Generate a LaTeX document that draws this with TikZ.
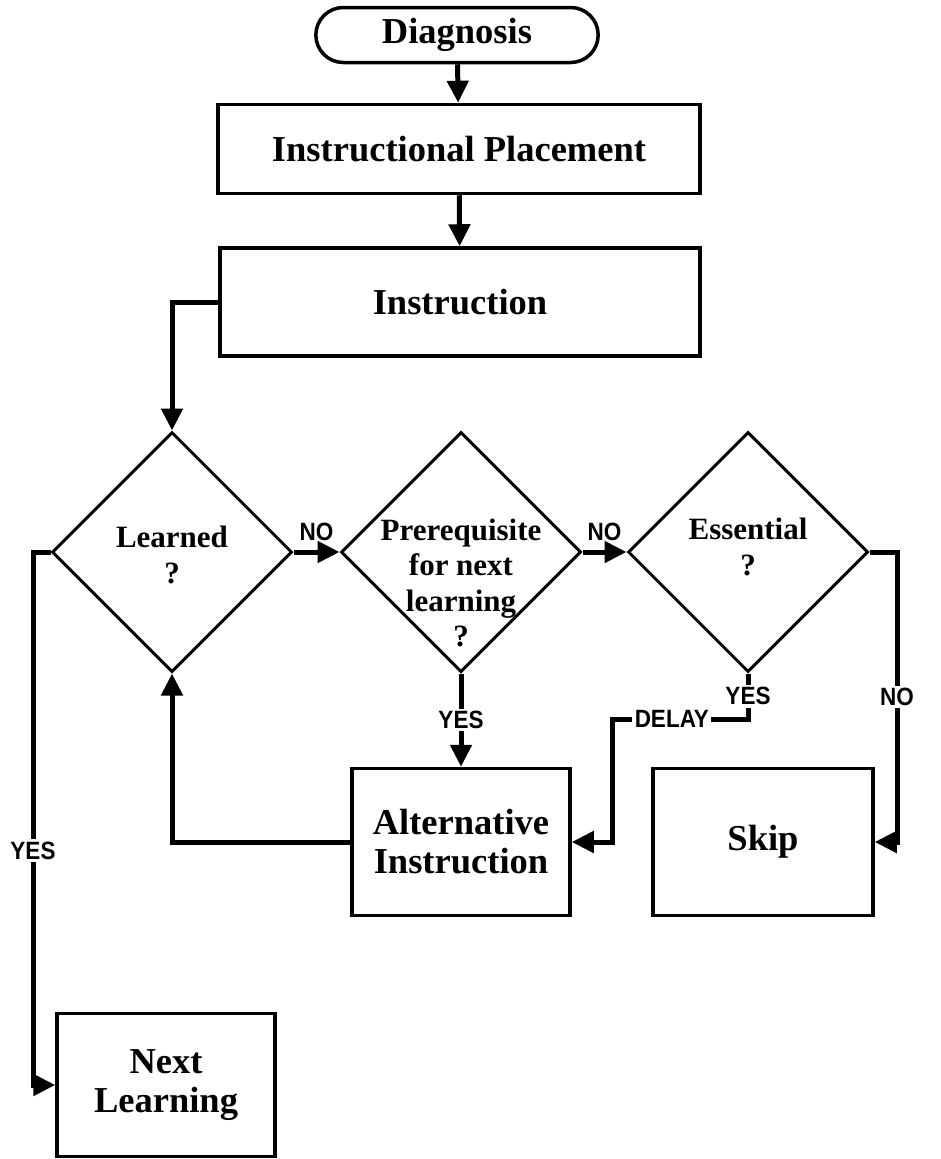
\documentclass[tikz,border=0pt]{standalone}
\usepackage{fontspec}
\setmainfont{Liberation Serif}
\newfontfamily\labelfont{Liberation Sans}[FakeStretch=0.9]
\usetikzlibrary{shapes.geometric, shapes.misc, arrows.meta}

\tikzset{
    box/.style={draw, rectangle, line width=3.5pt, align=center,
        font=\fontsize{36.5}{39}\selectfont\bfseries},
    startbox/.style={draw, rounded rectangle, line width=3.5pt,
        minimum width=289, minimum height=55,
        font=\fontsize{36.5}{39}\selectfont\bfseries},
    decision/.style={draw, diamond, line width=3pt, inner sep=0pt,
        minimum width=240, minimum height=240},
    qtext/.style={draw=none, fill=none, align=center,
        font=\fontsize{31}{35.5}\selectfont\bfseries},
    lab/.style={draw=none, inner sep=2.5pt,
        font=\labelfont\bfseries\fontsize{25}{25}\selectfont},
    flow/.style={line width=5pt, -{Triangle[length=22pt,width=21pt]}}
}

\begin{document}
\begin{tikzpicture}[x=1pt, y=-1pt]
    \useasboundingbox (0,0) rectangle (940,1159);

    \node[startbox] (diag) at (457,35) {Diagnosis};
    \node[box, minimum width=482, minimum height=89] (place) at (459,149) {Instructional Placement};
    \node[box, minimum width=480, minimum height=108] (instr) at (460,302) {Instruction};

    \node[decision] (learned) at (172,552) {};
    \node[qtext] (learnedq) at (172,555) {Learned\\?};
    \node[decision] (prereq) at (461,552) {};
    \node[qtext] (prereqq) at (461,583) {Prerequisite\\for next\\learning\\?};
    \node[decision] (essent) at (748,552) {};
    \node[qtext] (essentq) at (748,547) {Essential\\?};

    \node[box, minimum width=218, minimum height=147] (alt) at (461,842) {Alternative\\Instruction};
    \node[box, minimum width=220, minimum height=147] (skip) at (763,842) {Skip};
    \node[box, minimum width=218, minimum height=143] (next) at (166,1085) {Next\\Learning};

    \coordinate (yesbend) at (33,552);
    \coordinate (delaybend) at (612,719);
    \coordinate (nobend) at (897,552);

    \draw[flow] (diag) -- (place);
    \draw[flow] (place) -- (instr);
    \draw[flow] (instr.west) -| (learned.north);
    \draw[flow] (learned.east) -- node[lab, above=6pt] (no1) {NO} (prereq.west);
    \draw[flow] (prereq.east) -- node[lab, above=6pt] (no2) {NO} (essent.west);
    \draw[flow] (learned.west) -- (yesbend) |- node[lab, fill=white, pos=0.28] (yes1) {YES} (next.west);
    \draw[flow] (alt.west) -| (learned.south);
    \draw[flow] (prereq.south) -- node[lab, fill=white] (yes2) {YES} (alt.north);
    \draw[flow] (essent.south) -- node[lab, fill=white] (yes3) {YES} (essent.south |- delaybend)
        -- node[lab, fill=white, pos=0.56] (delay) {DELAY} (delaybend) |- (alt.east);
    \draw[flow] (essent.east) -- (nobend) |- node[lab, fill=white, pos=0.25] (no3) {NO} (skip.east);
\end{tikzpicture}
\end{document}
